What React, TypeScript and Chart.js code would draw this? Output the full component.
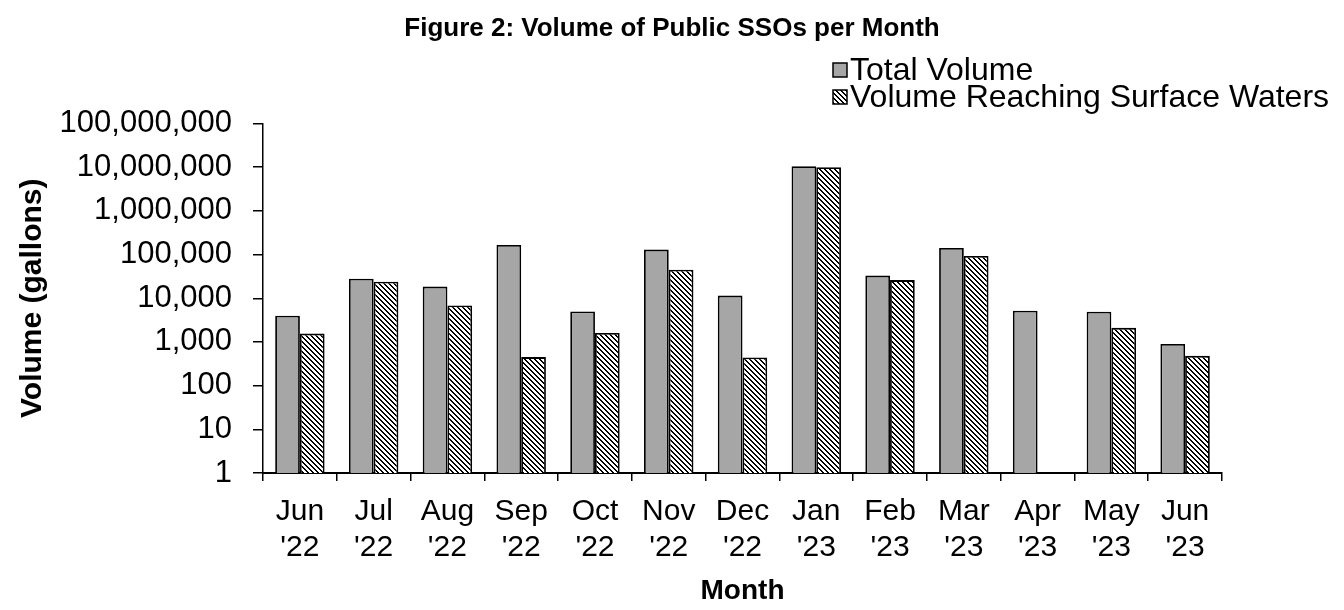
import React, { useEffect, useRef } from "react";
import { Chart, registerables } from "chart.js";

Chart.register(...registerables);

const months: string[][] = [
  ["Jun", "'22"], ["Jul", "'22"], ["Aug", "'22"], ["Sep", "'22"], ["Oct", "'22"],
  ["Nov", "'22"], ["Dec", "'22"], ["Jan", "'23"], ["Feb", "'23"], ["Mar", "'23"],
  ["Apr", "'23"], ["May", "'23"], ["Jun", "'23"],
];
const totalVolume: number[] = [
  4000, 28000, 18500, 165000, 5000, 130000, 11500, 10500000, 33000, 142000, 5200, 4900, 900,
];
const surfaceVolume: (number | null)[] = [
  1550, 24000, 6800, 450, 1600, 45000, 440, 10000000, 26000, 93000, null, 2100, 480,
];
const yTickValues: number[] = [1, 10, 100, 1000, 10000, 100000, 1000000, 10000000, 100000000];
const seriesNames: string[] = ["Total Volume", "Volume Reaching Surface Waters"];
const chartTitle = "Figure 2: Volume of Public SSOs per Month";

const FONT = "'Liberation Sans', Arial, Helvetica, sans-serif";

function makeHatch(): CanvasPattern | string {
  const size = 5;
  const c = document.createElement("canvas");
  c.width = size;
  c.height = size;
  const g = c.getContext("2d");
  if (!g) return "#fff";
  g.fillStyle = "#ffffff";
  g.fillRect(0, 0, size, size);
  g.fillStyle = "#000000";
  for (let i = 0; i < size; i++) {
    g.fillRect(i, i, 1, 1);
    g.fillRect((i + 1) % size, i, 1, 1);
  }
  const p = g.createPattern(c, "repeat");
  return p || "#fff";
}

export default function App() {
  const ref = useRef<HTMLCanvasElement | null>(null);

  useEffect(() => {
    if (!ref.current) return;
    const hatch = makeHatch();
    const gray = "#A6A6A6";

    const decor = {
      id: "decor",
      afterDraw(chart: any) {
        const ctx = chart.ctx;
        ctx.save();
        // Title
        ctx.fillStyle = "#000";
        ctx.font = `bold 26px ${FONT}`;
        ctx.textAlign = "center";
        ctx.textBaseline = "middle";
        ctx.fillText(chartTitle, 672, 29);
        // Legend
        const fills = [gray, hatch];
        const ys = [70, 97];
        ctx.font = `32px ${FONT}`;
        ctx.textAlign = "left";
        for (let i = 0; i < 2; i++) {
          const bx = 833, by = ys[i] - 7, bs = 14;
          ctx.fillStyle = fills[i] as any;
          ctx.fillRect(bx, by, bs, bs);
          ctx.strokeStyle = "#000";
          ctx.lineWidth = 1.5;
          ctx.strokeRect(bx, by, bs, bs);
          ctx.fillStyle = "#000";
          ctx.fillText(seriesNames[i], 850, ys[i] + 1);
        }
        ctx.restore();
      },
    };

    const chart = new Chart(ref.current, {
      type: "bar",
      data: {
        labels: months,
        datasets: [
          {
            label: seriesNames[0],
            data: totalVolume,
            backgroundColor: gray,
            borderColor: "#000",
            borderWidth: 1.8,
            categoryPercentage: 0.67,
            barPercentage: 1,
          },
          {
            label: seriesNames[1],
            data: surfaceVolume as any,
            backgroundColor: hatch as any,
            borderColor: "#000",
            borderWidth: 1.8,
            categoryPercentage: 0.67,
            barPercentage: 1,
          },
        ],
      },
      options: {
        responsive: false,
        animation: false,
        layout: { padding: { top: 123.5, left: 0, right: 122, bottom: 0 } },
        plugins: {
          legend: { display: false },
          title: { display: false },
          tooltip: { enabled: false },
        },
        scales: {
          x: {
            offset: true,
            grid: {
              display: true,
              drawOnChartArea: false,
              drawTicks: true,
              tickLength: 8,
              color: "#000",
              lineWidth: 1.5,
              offset: true,
            },
            border: { display: true, color: "#000", width: 2 },
            ticks: {
              color: "#000",
              font: { family: FONT, size: 30, lineHeight: 1.2 },
              padding: 13,
              autoSkip: false,
              maxRotation: 0,
              minRotation: 0,
            },
            title: {
              display: true,
              text: "Month",
              color: "#000",
              font: { family: FONT, size: 28, weight: "bold", lineHeight: 1.2 },
              padding: { top: 0, bottom: 2 },
            },
            afterFit(scale: any) {
              scale.height = 137;
            },
          },
          y: {
            type: "logarithmic",
            min: 1,
            max: 100000000,
            grid: {
              display: true,
              drawOnChartArea: false,
              drawTicks: true,
              tickLength: 10,
              color: "#000",
              lineWidth: 1.5,
            },
            border: { display: true, color: "#000", width: 1.5 },
            ticks: {
              color: "#000",
              font: { family: FONT, size: 31, lineHeight: 1.2 },
              padding: 21,
              callback: (v: any) => Number(v).toLocaleString("en-US"),
            },
            afterBuildTicks(scale: any) {
              scale.ticks = yTickValues.map((v) => ({ value: v }));
            },
            title: {
              display: true,
              text: "Volume (gallons)",
              color: "#000",
              font: { family: FONT, size: 30, weight: "bold", lineHeight: 1.2 },
              padding: { top: 15, bottom: 0 },
            },
            afterFit(scale: any) {
              scale.width = 263;
            },
          },
        },
      },
      plugins: [decor],
    });
    return () => chart.destroy();
  }, []);

  return (
    <div style={{ position: "fixed", left: 0, top: 0, width: 1344, height: 610, background: "#fff" }}>
      <canvas ref={ref} width={1344} height={610} style={{ display: "block" }} />
    </div>
  );
}
